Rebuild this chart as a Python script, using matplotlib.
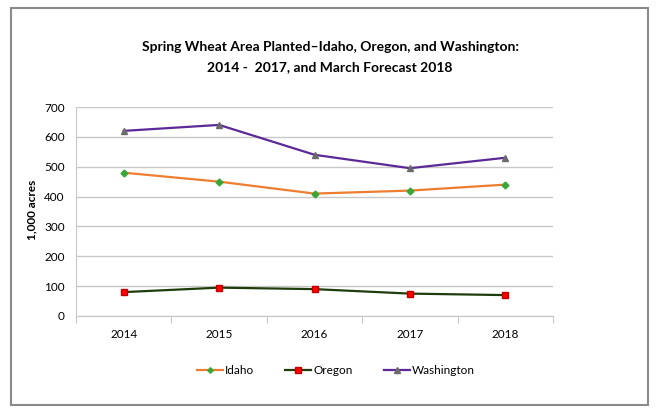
import matplotlib
matplotlib.use('Agg')
import matplotlib.pyplot as plt
from matplotlib.patches import Rectangle
import numpy as np

plt.rcParams['font.family'] = ['Lato', 'DejaVu Sans']

# datos
years = ['2014', '2015', '2016', '2017', '2018']
idaho = [480, 450, 410, 420, 440]
oregon = [80, 95, 90, 75, 70]
washington = [620, 640, 540, 495, 530]

fig = plt.figure(figsize=(6.6, 4.15), dpi=100)
ax = fig.add_axes([76/660, 1-316/415, (553-76)/660, (316-107)/415])

x = np.arange(len(years))
ax.plot(x, idaho, color='#ed7d31', lw=1.6, marker='D', ms=3.5,
        mfc='#3aa63a', mec='#3aa63a', label='Idaho')
ax.plot(x, oregon, color='#1f3d0c', lw=1.6, marker='s', ms=5,
        mfc='#ff0000', mec='#c00000', label='Oregon')
ax.plot(x, washington, color='#5b2a96', lw=1.6, marker='^', ms=5,
        mfc='#6b6b6b', mec='#6b6b6b', label='Washington')

ax.set_xlim(-0.5, len(years) - 0.5)
ax.set_ylim(0, 700)
ax.set_yticks(range(0, 701, 100))
ax.grid(axis='y', color='#c8c8c8', lw=1)
ax.set_axisbelow(True)

# ticks de categoria entre los años, como en Excel
ax.set_xticks(np.arange(-0.5, len(years), 1))
ax.set_xticklabels([])
ax.set_xticks(x, minor=True)
ax.set_xticklabels(years, minor=True, fontsize=8.5)
ax.tick_params(axis='x', which='major', length=5, color='#c8c8c8')
ax.tick_params(axis='x', which='minor', length=0, pad=9)
ax.tick_params(axis='y', length=0, labelsize=8.5, pad=8)

for s in ['top', 'right']:
    ax.spines[s].set_visible(False)
ax.spines['left'].set_color('#c8c8c8')
ax.spines['bottom'].set_color('#c8c8c8')

ax.set_ylabel('1,000 acres', fontsize=8.5, fontweight='bold')
ax.yaxis.set_label_coords(-0.082, 0.507)

fig.text(0.5, 1-47/415, 'Spring Wheat Area Planted\u2013Idaho, Oregon, and Washington:',
         ha='center', va='center', fontsize=10, fontweight='bold')
fig.text(0.5, 1-67/415, '2014 -  2017, and March Forecast 2018',
         ha='center', va='center', fontsize=10, fontweight='bold')

fig.legend(loc='center', bbox_to_anchor=(336/660, 1-371/415), ncol=3,
           frameon=False, fontsize=8.5, handlelength=2.2, columnspacing=2.6,
           handletextpad=0.2, markerscale=0.8)

# marco gris alrededor de la figura
fig.patches.append(Rectangle((11/660, 1-405/415), (648-11)/660, (405-8)/415,
                             transform=fig.transFigure, fill=False,
                             edgecolor='#8a8a8a', lw=1.5))

fig.savefig('out.png', dpi=100)
